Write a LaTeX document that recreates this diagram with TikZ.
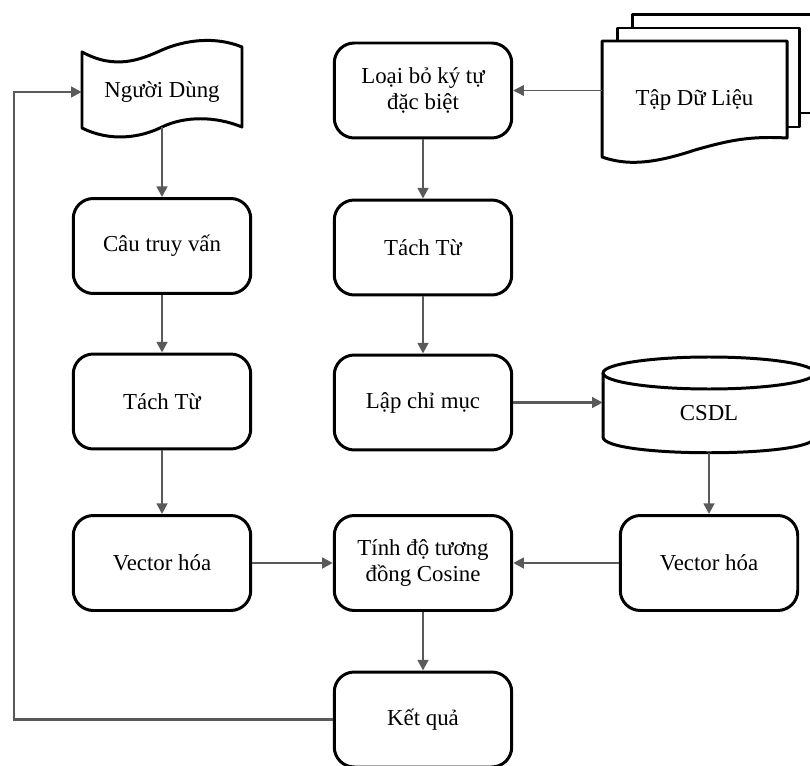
\documentclass[tikz,border=0pt]{standalone}
\usepackage{fontspec}
\setmainfont{Liberation Serif}
\usetikzlibrary{arrows.meta}
\definecolor{linegray}{RGB}{90,90,90}

\begin{document}
\begin{tikzpicture}[x=0.02cm,y=-0.02cm,
        font=\fontsize{13}{15}\selectfont,
        box/.style={draw,line width=1.7pt,rounded corners=0.4cm,minimum width=3.55cm,minimum height=1.9cm,align=center,fill=white},
        shp/.style={draw,line width=1.7pt,fill=white,line join=round},
        arr/.style={draw=linegray,line width=1.4pt,-{Triangle[length=6pt,width=6pt]}}]
        \useasboundingbox (0,0) rectangle (810,766);
        \clip (0,0) rectangle (810,766);

        % User (punched tape)
        \draw[shp] (82,52) .. controls (115,70) and (140,60) .. (162,50) .. controls (185,40) and (215,36) .. (242,47)
            -- (242,127) .. controls (215,116) and (185,116) .. (162,127) .. controls (140,138) and (110,142) .. (82,128) -- cycle;
        \node[minimum width=3.2cm,minimum height=1.4cm] (nd) at (162,92) {Người Dùng};

        % Data set (multi document)
        \draw[shp] (632,15) rectangle (830,113);
        \draw[shp] (617,28) rectangle (799,127);
        \draw[shp] (602,41) -- (787,41) -- (787,138) .. controls (750,136) and (730,140) .. (695,150)
            .. controls (650,165) and (625,165) .. (602,157) -- cycle;
        \node[minimum width=3.7cm,minimum height=2.32cm] (tap) at (694.5,100) {Tập Dữ Liệu};

        % Database (cylinder)
        \draw[shp] (603,373) -- (603,437) .. controls (603,458) and (815,458) .. (815,437) -- (815,373);
        \draw[shp] (709,373) ellipse [x radius=106, y radius=16];
        \node[minimum width=4.24cm,minimum height=1.6cm] (csdl) at (709,413) {CSDL};

        % Query side
        \node[box] (cau) at (162,246) {Câu truy vấn};
        \node[box] (tach1) at (162,401.5) {Tách Từ};
        \node[box] (vec1) at (162,563) {Vector hóa};

        % Document side
        \node[box] (loai) at (423,90.5) {Loại bỏ ký tự\\đặc biệt};
        \node[box] (tach2) at (423,247.5) {Tách Từ};
        \node[box] (lap) at (423,402.5) {Lập chỉ mục};
        \node[box] (tinh) at (423,563) {Tính độ tương\\đồng Cosine};
        \node[box] (ketqua) at (423,719.5) {Kết quả};
        \node[box] (vec2) at (709,563) {Vector hóa};

        % Arrows
        \draw[arr] (nd) -- (cau);
        \draw[arr] (cau) -- (tach1);
        \draw[arr] (tach1) -- (vec1);
        \draw[arr] (vec1) -- (tinh);
        \draw[arr,line width=0.7pt] (tap.west |- loai.east) -- (loai.east);
        \draw[arr] (loai) -- (tach2);
        \draw[arr] (tach2) -- (lap);
        \draw[arr] (lap.east) -- (lap.east -| csdl.west);
        \draw[arr] (csdl) -- (vec2);
        \draw[arr] (vec2) -- (tinh);
        \draw[arr] (tinh) -- (ketqua);
        \coordinate (loop) at (14,719.5);
        \draw[arr] (ketqua.west) -- (loop) |- (nd.west);
    \end{tikzpicture}
\end{document}
